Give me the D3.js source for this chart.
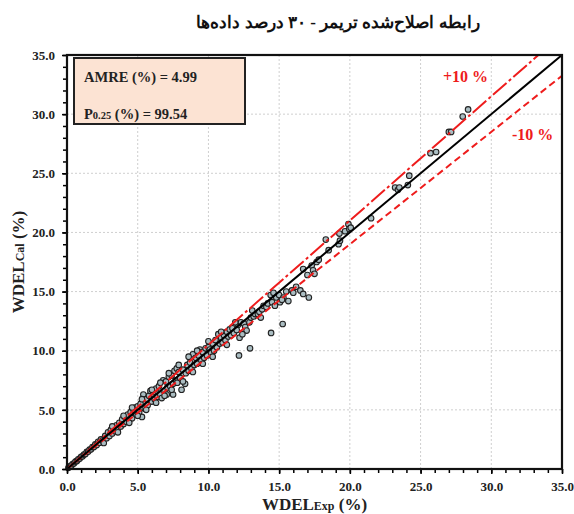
<!DOCTYPE html>
<html>
<head>
<meta charset="utf-8" />
<script src="https://d3js.org/d3.v7.min.js"></script>
<style>
  body { margin: 0; background: #fff; }
  svg text { font-family: "Liberation Serif", "Times New Roman", serif; font-weight: bold; }
</style>
</head>
<body>
<svg id="chart" width="574" height="514"></svg>
<script>
// values: [WDEL Exp, WDEL Cal]
let points = [
  [0.1,0.1],[0.2,0.22],[0.3,0.28],[0.4,0.42],[0.5,0.48],[0.6,0.63],[0.7,0.68],[0.8,0.82],[0.9,0.88],
  [1.0,1.03],[1.1,1.08],[1.2,1.22],[1.3,1.27],[1.4,1.45],[1.5,1.47],[1.6,1.65],[1.7,1.66],[1.8,1.85],
  [1.9,1.86],[2.0,2.08],[2.1,2.02],[2.2,2.3],[2.3,2.22],[2.4,2.5],[2.5,2.4],[2.6,2.2],[2.7,2.8],[2.8,2.6],
  [2.9,3.1],[3.0,2.8],[3.1,3.3],[3.2,3.0],[3.3,3.5],[3.4,3.2],[3.5,3.7],[3.6,3.4],[3.7,3.9],[3.8,3.6],
  [3.9,4.2],[4.0,3.8],[4.1,4.4],[4.2,4.0],[4.3,4.6],[4.4,4.1],[4.5,4.8],[4.6,4.3],[4.7,5.0],[4.8,5.2],
  [4.9,4.6],[5.0,5.3],[5.1,4.8],[5.2,5.5],[5.3,4.4],[5.4,6.3],[5.5,5.1],[5.6,5.9],[5.7,5.4],[5.8,6.2],
  [5.9,6.6],[6.0,5.7],[6.1,6.5],[6.2,5.9],[6.3,6.8],[6.4,6.1],[6.5,7.0],[6.6,6.3],[6.7,6.0],[6.8,7.5],
  [6.9,6.6],[7.0,7.4],[7.05,6.3],[7.1,6.9],[7.2,7.8],[7.3,7.0],[7.4,7.9],[7.5,6.3],[7.5,7.2],[7.6,8.3],
  [7.7,7.5],[7.76,8.5],[7.8,7.3],[7.9,8.2],[8.0,7.7],[8.1,6.7],[8.2,8.4],[8.35,7.2],[8.4,8.1],[8.5,8.8],
  [8.6,8.3],[8.7,9.0],[8.8,8.5],[8.9,9.7],[9.0,8.8],[9.1,9.4],[9.2,8.9],[9.3,9.6],[9.4,10.1],[9.5,9.2],
  [9.6,9.9],[9.7,9.4],[9.8,10.2],[9.9,9.6],[10.0,10.3],[10.1,10.1],[10.2,9.8],[10.3,10.6],[10.4,10.0],
  [10.5,10.9],[10.6,10.3],[10.7,11.4],[10.8,10.6],[10.9,11.1],[11.0,10.7],[11.1,11.3],[11.3,11.6],
  [11.2,10.9],[11.4,11.2],[11.5,11.8],[11.6,11.3],[11.7,11.9],[11.8,11.5],[12.0,11.75],[12.1,12.2],
  [12.16,9.6],[12.2,11.1],[12.3,12.4],[12.5,12.3],[12.6,12.0],[12.7,11.7],[12.9,12.4],[12.94,10.2],
  [13.0,12.8],[13.2,12.9],[13.3,13.1],[13.5,13.1],[13.6,13.3],[13.8,13.5],[13.9,13.8],[14.1,13.7],
  [14.2,14.0],[14.4,14.7],[14.43,11.5],[14.5,14.1],[14.7,13.8],[14.8,14.5],[15.0,14.7],[15.06,14.1],
  [15.25,12.26],[15.3,14.5],[15.5,15.0],[15.65,14.2],[15.9,15.1],[16.0,14.9],[16.2,15.4],[16.5,15.1],
  [16.7,16.9],[16.7,14.8],[17.0,16.4],[17.1,14.5],[17.3,17.2],[17.4,16.8],[17.5,16.5],[17.65,17.5],
  [17.8,17.7],[18.3,19.4],[18.5,18.5],[19.2,19.0],[19.26,19.9],[19.3,19.3],[19.66,20.1],[19.9,20.7],
  [19.96,20.3],[20.06,20.4],[21.5,21.2],[23.2,23.8],[23.4,23.6],[23.5,23.8],[24.1,24.0],[24.2,24.8],
  [25.7,26.7],[26.1,26.8],[27.0,28.5],[27.16,28.5],[27.98,29.8],[28.36,30.4],
  // extra spread in the dense part of the cloud
  [3.2,3.6],[3.6,3.1],[4.0,4.5],[4.4,3.9],[4.6,5.2],[5.0,4.5],[5.3,5.9],[5.6,5.0],[6.0,6.7],[6.3,5.6],
  [6.6,7.3],[6.9,6.2],[7.2,8.1],[7.4,6.7],[7.9,8.8],[8.2,7.4],[8.6,9.5],[8.9,8.2],[9.2,10.0],[9.6,8.9],
  [10.0,10.8],[10.3,9.5],[10.9,11.6],[11.3,10.5],[11.9,12.4],[12.4,11.4],[13.1,13.4],[13.7,12.8],
  [14.6,14.9],[15.2,14.3]
];
let refLine = [[0,0],[35,35]];
let upperLine = [[0,0],[33.33,35]];
let lowerLine = [[0,0],[35,33.25]];
let tickValues = [0,5,10,15,20,25,30,35];
let minorTicks = d3.range(0,36,1);
let title = "رابطه اصلاح\u200cشده تریمر - ۳۰ درصد داده\u200cها";
let stats = [["AMRE", "", " (%) = 4.99"], ["P", "0.25", " (%) = 99.54"]];

let width = 574, height = 514;
let margin = {top: 55, right: 12, bottom: 45, left: 67};
let svg = d3.select("#chart");

let x = d3.scaleLinear().domain([0,35]).range([margin.left, width - margin.right]);
let y = d3.scaleLinear().domain([0,35]).range([height - margin.bottom, margin.top]);

// grid
let grid = svg.append("g");
grid.selectAll(".gx").data(tickValues.slice(1,-1)).enter().append("line")
  .attr("x1", d => x(d)).attr("x2", d => x(d))
  .attr("y1", y(0)).attr("y2", y(35))
  .attr("stroke", "#cfcfcf").attr("stroke-dasharray", "2,2");
grid.selectAll(".gy").data(tickValues.slice(1,-1)).enter().append("line")
  .attr("y1", d => y(d)).attr("y2", d => y(d))
  .attr("x1", x(0)).attr("x2", x(35))
  .attr("stroke", "#cfcfcf").attr("stroke-dasharray", "2,2");

// points
svg.append("g").selectAll("circle").data(points).enter().append("circle")
  .attr("cx", d => x(d[0])).attr("cy", d => y(d[1])).attr("r", 2.8)
  .attr("fill", "#aabdc2").attr("stroke", "#222").attr("stroke-width", 1.1);

let line = d3.line().x(d => x(d[0])).y(d => y(d[1]));
svg.append("path").attr("d", line(upperLine)).attr("fill", "none")
  .attr("stroke", "#ee1c1c").attr("stroke-width", 2).attr("stroke-dasharray", "18,3,3,3");
svg.append("path").attr("d", line(lowerLine)).attr("fill", "none")
  .attr("stroke", "#ee1c1c").attr("stroke-width", 2).attr("stroke-dasharray", "7,4");
svg.append("path").attr("d", line(refLine)).attr("fill", "none")
  .attr("stroke", "#000").attr("stroke-width", 2);

// axes
let xAxis = svg.append("g").attr("transform", `translate(0,${y(0)})`)
  .call(d3.axisBottom(x).tickValues(tickValues).tickFormat(d3.format(".1f")).tickSize(5));
let xMinor = svg.append("g").attr("transform", `translate(0,${y(0)})`)
  .call(d3.axisBottom(x).tickValues(minorTicks).tickFormat("").tickSize(4));
let yAxis = svg.append("g").attr("transform", `translate(${x(0)},0)`)
  .call(d3.axisLeft(y).tickValues(tickValues).tickFormat(d3.format(".1f")).tickSize(5));
let yMinor = svg.append("g").attr("transform", `translate(${x(0)},0)`)
  .call(d3.axisLeft(y).tickValues(minorTicks).tickFormat("").tickSize(4));
[xAxis, xMinor, yAxis, yMinor].forEach(a => {
  a.select(".domain").remove();
  a.selectAll("line").attr("stroke", "#000").attr("stroke-width", 1.5);
  a.selectAll("text").attr("font-size", 13).attr("fill", "#222")
    .attr("font-family", "Liberation Serif").attr("font-weight", "bold");
});
xAxis.selectAll("text").attr("dy", "1.1em");
yAxis.selectAll("text").attr("dx", "-0.3em");

// frame
svg.append("rect").attr("x", x(0)).attr("y", y(35))
  .attr("width", x(35) - x(0)).attr("height", y(0) - y(35))
  .attr("fill", "none").attr("stroke", "#111").attr("stroke-width", 2.2);

// stats box
svg.append("rect").attr("x", 74).attr("y", 58).attr("width", 171).attr("height", 66)
  .attr("fill", "#fce3d3").attr("stroke", "#222").attr("stroke-width", 2);
stats.forEach((s, i) => {
  let t = svg.append("text").attr("x", 84).attr("y", 82 + i * 37)
    .attr("font-size", 14.5).attr("fill", "#222");
  t.append("tspan").text(s[0]);
  if (s[1]) t.append("tspan").attr("font-size", 10.5).text(s[1]);
  t.append("tspan").text(s[2]);
});

// band labels
svg.append("text").attr("x", 443).attr("y", 82).attr("fill", "#ee1c1c")
  .attr("font-size", 16).text("+10 %");
svg.append("text").attr("x", 512).attr("y", 140).attr("fill", "#ee1c1c")
  .attr("font-size", 16).text("-10 %");

// axis titles
let xt = svg.append("text").attr("x", (x(0) + x(35)) / 2).attr("y", 510)
  .attr("text-anchor", "middle").attr("font-size", 17).attr("fill", "#222");
xt.append("tspan").text("WDEL");
xt.append("tspan").attr("font-size", 12).text("Exp");
xt.append("tspan").text(" (%)");

let yt = svg.append("text")
  .attr("transform", `translate(24,${(y(0) + y(35)) / 2}) rotate(-90)`)
  .attr("text-anchor", "middle").attr("font-size", 17).attr("fill", "#222");
yt.append("tspan").text("WDEL");
yt.append("tspan").attr("font-size", 12).text("Cal");
yt.append("tspan").text(" (%)");

// title
svg.append("text").attr("x", 338).attr("y", 28).attr("text-anchor", "middle")
  .attr("direction", "rtl")
  .attr("font-family", "DejaVu Sans").attr("font-weight", "bold")
  .attr("font-size", 17).attr("fill", "#111").text(title);
</script>
</body>
</html>
